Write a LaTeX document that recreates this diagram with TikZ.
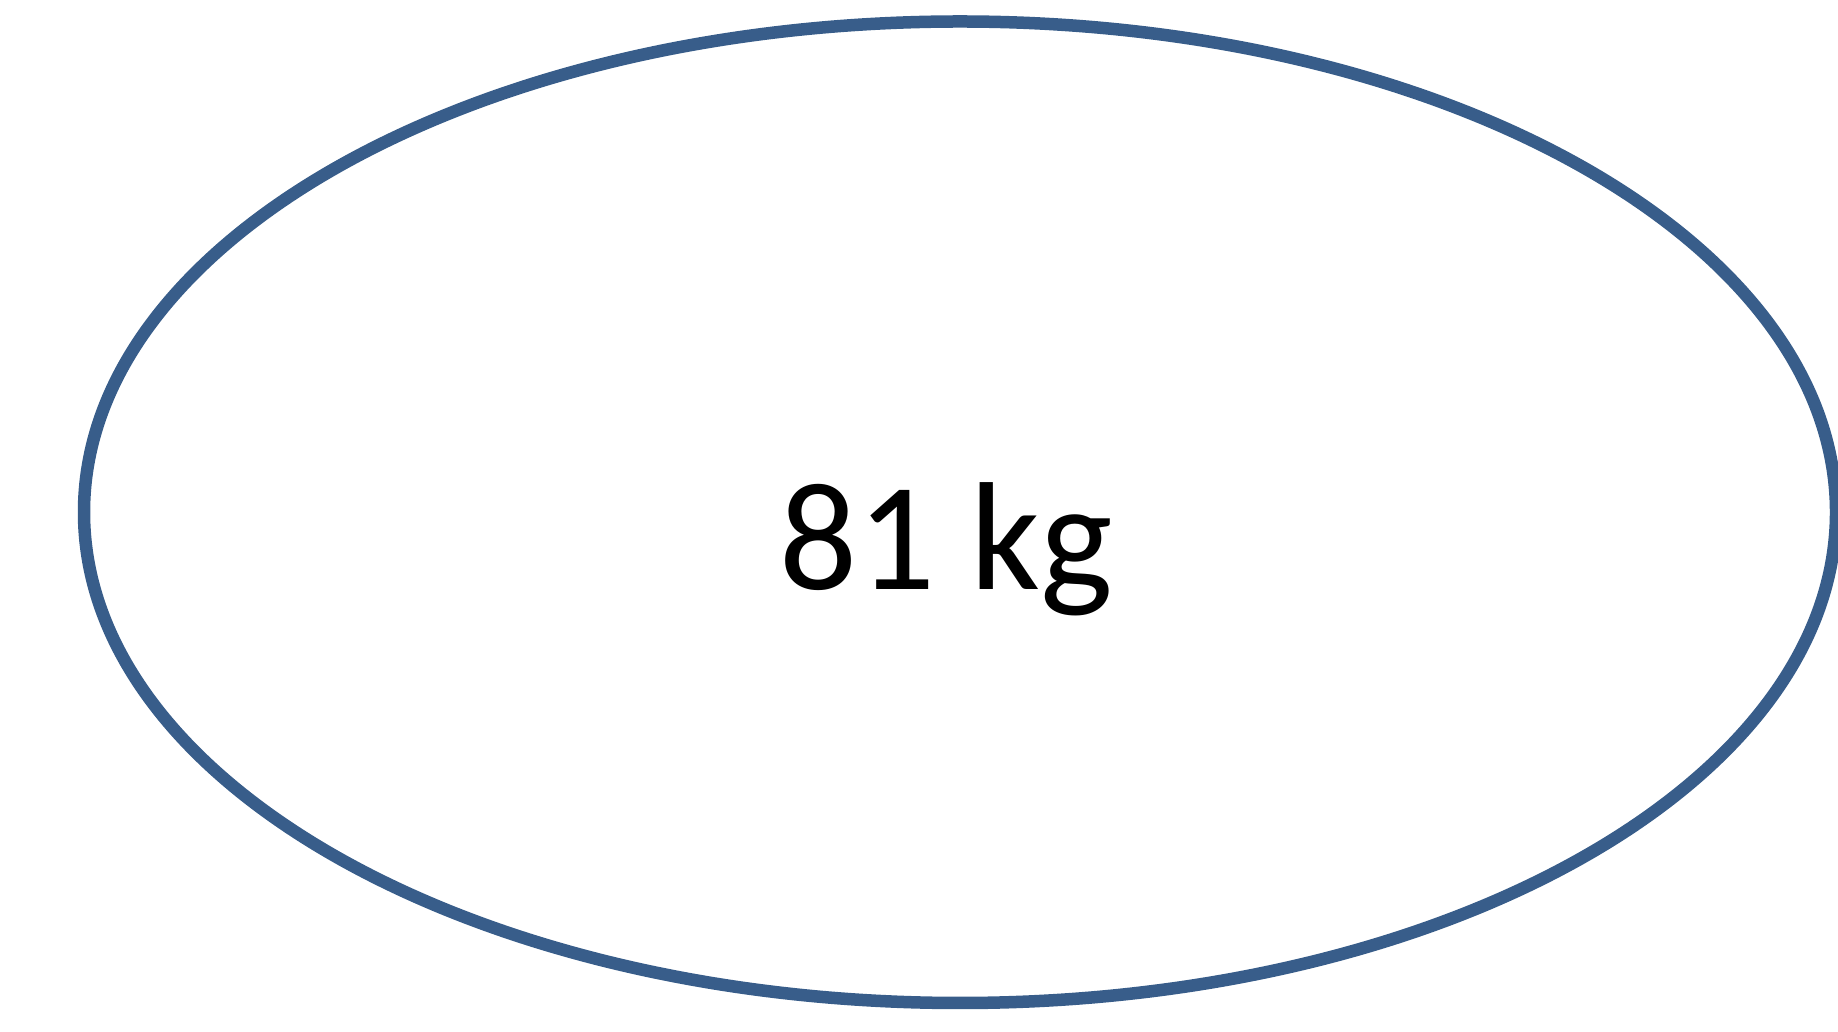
\documentclass[tikz,border=0pt]{standalone}
\usepackage{fontspec}
\setmainfont{Carlito}
\definecolor{ringblue}{HTML}{385D8A}
\begin{document}
\begin{tikzpicture}[x=1pt,y=1pt,
  ring/.style={draw=ringblue,line width=12.5pt},
  label/.style={inner sep=0pt,font=\fontsize{154}{170}\selectfont,anchor=base}]
\useasboundingbox (0,0) rectangle (1838,1032);
\draw[ring] (960,519.75) ellipse [x radius=876, y radius=490.75];
\node[label] (txt) at (946.5,442) {81 kg};
\end{tikzpicture}
\end{document}
